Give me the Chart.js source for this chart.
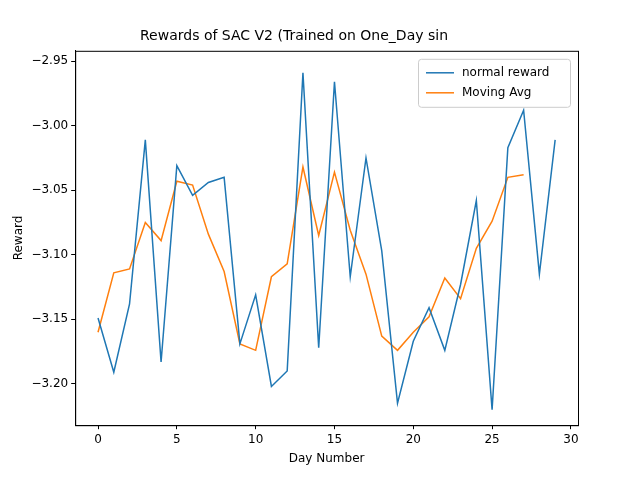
<!DOCTYPE html>
<html lang="en">
<head>
  <meta charset="UTF-8" />
  <title>Rewards of SAC V2</title>
  <script src="https://cdn.jsdelivr.net/npm/chart.js"></script>
  <style>body{margin:0;background:#fff;}#wrap{width:640px;height:480px;}</style>
</head>
<body>
  <div id="wrap"><canvas id="chart"></canvas></div>
  <script>
    const days = Array.from({length: 30}, (_, i) => i);
    const normalReward = [-3.149, -3.191, -3.138, -3.011, -3.183, -3.031, -3.054, -3.044, -3.040, -3.169,
      -3.131, -3.202, -3.190, -2.959, -3.172, -2.966, -3.117, -3.025, -3.097, -3.215,
      -3.167, -3.141, -3.174, -3.123, -3.058, -3.220, -3.017, -2.988, -3.115, -3.011];
    const movingAvg = [-3.160, -3.114, -3.111, -3.075, -3.089, -3.043, -3.046, -3.084, -3.113, -3.169,
      -3.174, -3.117, -3.107, -3.032, -3.085, -3.036, -3.081, -3.115, -3.163, -3.174,
      -3.160, -3.148, -3.118, -3.134, -3.095, -3.074, -3.040, -3.038];
    const yTicks = [-3.20, -3.15, -3.10, -3.05, -3.00, -2.95];

    const font = {family: 'DejaVu Sans', size: 12};
    const pts = arr => arr.map((v, i) => ({x: days[i], y: v}));

    // frame around the plot area
    const frame = {
      id: 'frame',
      afterDraw(c) {
        const ctx = c.ctx, a = c.chartArea;
        ctx.save();
        ctx.strokeStyle = '#000'; ctx.lineWidth = 1;
        ctx.strokeRect(a.left + 0.5, a.top + 0.5, a.right - a.left, a.bottom - a.top);
        ctx.restore();
      }
    };

    // legend drawn inside the plot, top right
    const innerLegend = {
      id: 'innerLegend',
      afterDraw(c) {
        const ctx = c.ctx, a = c.chartArea;
        const items = c.data.datasets;
        const w = 152, h = 48, x = a.right - w - 8, y = a.top + 8;
        ctx.save();
        ctx.fillStyle = 'rgba(255,255,255,0.8)';
        ctx.strokeStyle = '#cccccc';
        ctx.lineWidth = 1;
        ctx.beginPath();
        ctx.roundRect(x + 0.5, y + 0.5, w, h, 3);
        ctx.fill(); ctx.stroke();
        ctx.font = '12px DejaVu Sans';
        ctx.textBaseline = 'middle';
        items.forEach((d, i) => {
          const ly = y + 14 + i * 20;
          ctx.strokeStyle = d.borderColor;
          ctx.lineWidth = 1.5;
          ctx.beginPath(); ctx.moveTo(x + 8, ly); ctx.lineTo(x + 36, ly); ctx.stroke();
          ctx.fillStyle = '#000';
          ctx.fillText(d.label, x + 44, ly);
        });
        ctx.restore();
      }
    };

    new Chart(document.getElementById('chart'), {
      type: 'line',
      data: {
        datasets: [
          {label: 'normal reward', data: pts(normalReward), borderColor: '#1f77b4', borderWidth: 1.5, pointRadius: 0, tension: 0},
          {label: 'Moving Avg', data: pts(movingAvg), borderColor: '#ff7f0e', borderWidth: 1.5, pointRadius: 0, tension: 0}
        ]
      },
      options: {
        responsive: true, maintainAspectRatio: false, animation: false,
        layout: {padding: {left: 10, right: 62, top: 22, bottom: 12}},
        plugins: {
          legend: {display: false},
          tooltip: {enabled: false},
          title: {display: true, text: 'Rewards of SAC V2 (Trained on One_Day sin', color: '#000',
            font: {family: 'DejaVu Sans', size: 14, weight: 'normal'}, padding: {top: 6, bottom: 6}}
        },
        scales: {
          x: {
            type: 'linear', min: -1.45, max: 30.45,
            grid: {display: true, drawOnChartArea: false, drawTicks: true, tickLength: 4, color: '#000'},
            border: {color: '#000'},
            afterBuildTicks: s => { s.ticks = [0, 5, 10, 15, 20, 25, 30].map(v => ({value: v})); },
            ticks: {color: '#000', font, maxRotation: 0},
            title: {display: true, text: 'Day Number', color: '#000', font, padding: 2}
          },
          y: {
            min: -3.232, max: -2.942,
            grid: {display: true, drawOnChartArea: false, drawTicks: true, tickLength: 4, color: '#000'},
            border: {color: '#000'},
            afterBuildTicks: s => { s.ticks = yTicks.map(v => ({value: v})); },
            ticks: {color: '#000', font, callback: v => v.toFixed(2).replace('-', '\u2212')},
            title: {display: true, text: 'Reward', color: '#000', font, padding: 2}
          }
        }
      },
      plugins: [frame, innerLegend]
    });
  </script>
</body>
</html>
